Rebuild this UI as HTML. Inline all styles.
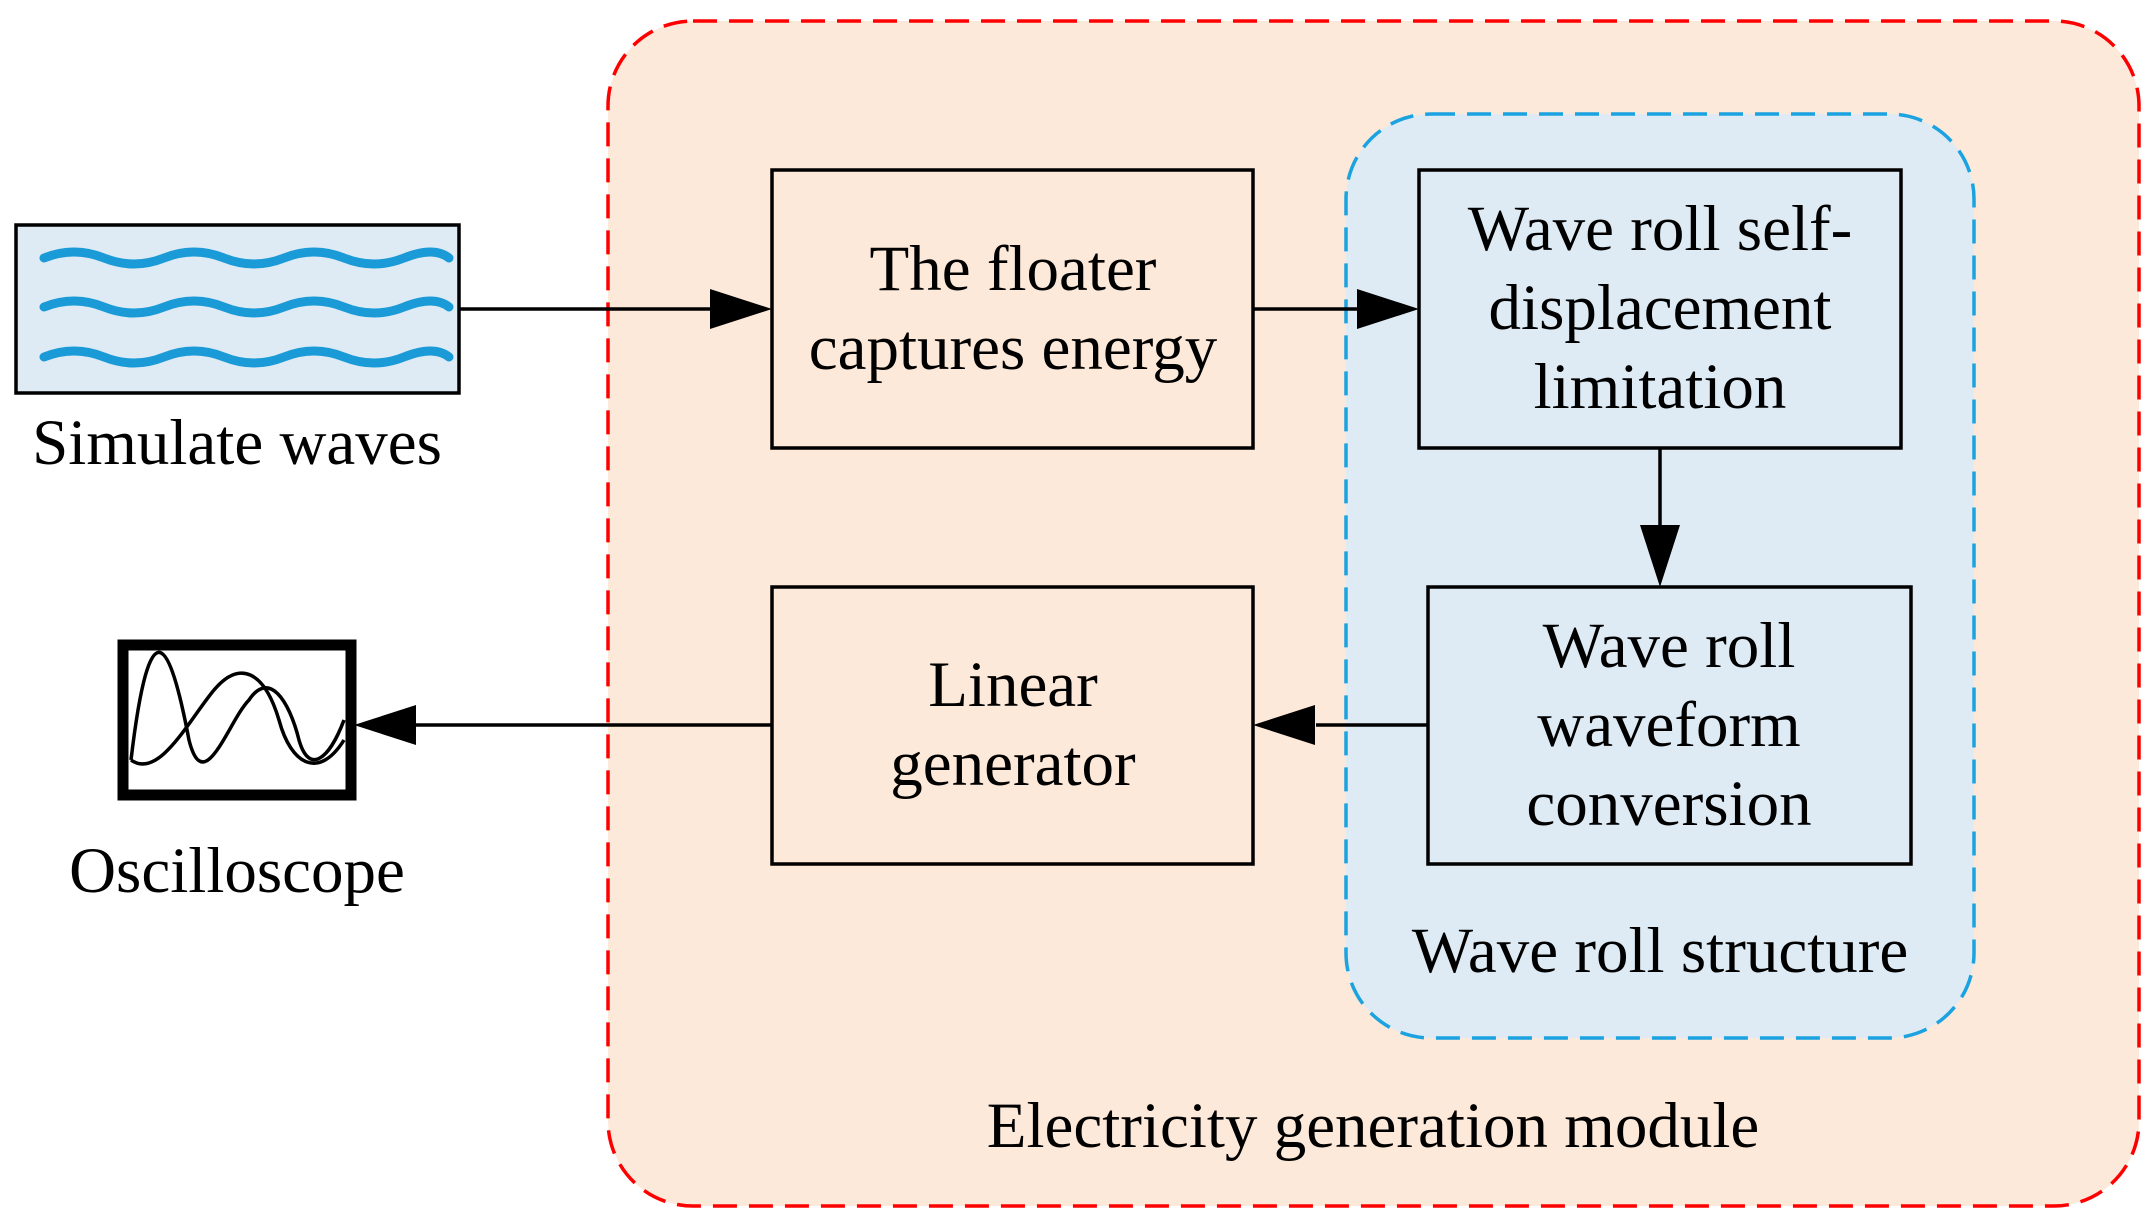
<!DOCTYPE html>
<html><head><meta charset="utf-8"><style>html,body{margin:0;padding:0;background:#fff}svg{display:block}</style></head>
<body>
<svg width="2150" height="1217" viewBox="0 0 2150 1217" xmlns="http://www.w3.org/2000/svg" font-family="Liberation Serif, serif" font-size="65" text-anchor="middle">
<rect x="608" y="21" width="1531" height="1185" rx="85" fill="#fde9d9" stroke="#ff0000" stroke-width="3.5" stroke-dasharray="24,12" transform="translate(0,0)"/>
<rect x="1346" y="114" width="628" height="924" rx="85" fill="#deebf5" stroke="#1aa3e0" stroke-width="3.5" stroke-dasharray="24,12"/>
<g fill="none" stroke="#000" stroke-width="3.5">
<rect x="772" y="170" width="481" height="278" fill="#fde9d9"/>
<rect x="1419" y="170" width="482" height="278" fill="#deebf5"/>
<rect x="1428" y="587" width="483" height="277" fill="#deebf5"/>
<rect x="772" y="587" width="481" height="277" fill="#fde9d9"/>
<rect x="16" y="225" width="443" height="168" fill="#deebf5"/>
<rect x="123" y="645" width="228" height="150" stroke-width="11" fill="#fff"/>
<line x1="459" y1="309" x2="710" y2="309"/>
<line x1="1253" y1="309" x2="1358" y2="309"/>
<line x1="1660" y1="448" x2="1660" y2="525"/>
<line x1="1428" y1="725" x2="1316" y2="725"/>
<line x1="772" y1="725" x2="416" y2="725"/>
</g>
<g fill="#000">
<path d="M710,289 L772,309 L710,329z"/>
<path d="M1357,289 L1419,309 L1357,329z"/>
<path d="M1640,525 L1660,587 L1680,525z"/>
<path d="M1315,705 L1253,725 L1315,745z"/>
<path d="M416,705 L354,725 L416,745z"/>
</g>
<g fill="none" stroke="#1a9ad6" stroke-width="9" stroke-linecap="round">
<path d="M44,258 q30,-12 60,0 t60,0 t60,0 t60,0 t60,0 t60,0 t45,0"/>
<path d="M44,307 q30,-12 60,0 t60,0 t60,0 t60,0 t60,0 t60,0 t45,0"/>
<path d="M44,357 q30,-12 60,0 t60,0 t60,0 t60,0 t60,0 t60,0 t45,0"/>
</g>
<g fill="none" stroke="#000" stroke-width="3.5">
<path d="M131,760 C150,600 170,640 189,740 C204,800 229,720 249,700 C269,670 289,700 299,740 C309,775 329,760 344,720"/>
<path d="M131,760 C159,780 189,720 214,690 C239,660 264,670 279,720 C291,765 319,780 344,740"/>
</g>
<text x="1013" y="290">The floater</text>
<text x="1013" y="369">captures energy</text>
<text x="1660" y="250">Wave roll self-</text>
<text x="1660" y="329">displacement</text>
<text x="1660" y="408">limitation</text>
<text x="1669" y="667">Wave roll</text>
<text x="1669" y="746">waveform</text>
<text x="1669" y="825">conversion</text>
<text x="1013" y="706">Linear</text>
<text x="1013" y="785">generator</text>
<text x="1660" y="972">Wave roll structure</text>
<text x="1373" y="1147">Electricity generation module</text>
<text x="237" y="464">Simulate waves</text>
<text x="237" y="892">Oscilloscope</text>
</svg>
</body></html>
